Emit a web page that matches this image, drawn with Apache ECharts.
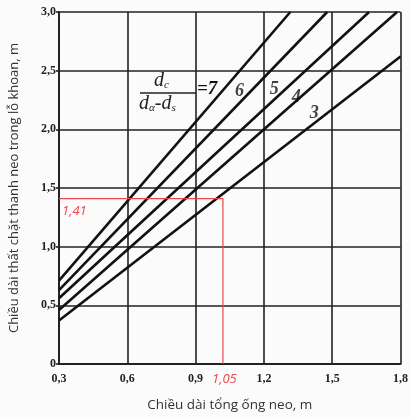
<!DOCTYPE html>
<html><head><meta charset="utf-8">
<script src="https://cdn.jsdelivr.net/npm/echarts@6/dist/echarts.min.js"></script>
<style>html,body{margin:0;padding:0;background:#fbfbfb}#c{width:411px;height:417px}</style>
</head><body><div id="c"></div>
<script>
// Data
const xTicks = [0.3, 0.6, 0.9, 1.2, 1.5, 1.8];
const yTicks = [0, 0.5, 1.0, 1.5, 2.0, 2.5, 3.0];
const ratioNames = ['7', '6', '5', '4', '3'];
const line7 = [[0.3, 0.71], [1.316, 3.0]];
const line6 = [[0.3, 0.63], [1.478, 3.0]];
const line5 = [[0.3, 0.56], [1.662, 3.0]];
const line4 = [[0.3, 0.46], [1.785, 3.0]];
const line3 = [[0.3, 0.37], [1.8, 2.62]];
const exampleX = 1.02;      // drawn position of the worked example
const exampleY = 1.41;
const exampleXLabel = '1,05';
const exampleYLabel = '1,41';
const curveLabels = [[1.093, 2.32, '6'], [1.246, 2.34, '5'], [1.342, 2.27, '4'], [1.421, 2.14, '3']];

const fmt = v => (Math.round(v * 10) / 10 === 0 ? '0' : v.toFixed(1).replace('.', ','));
const chart = echarts.init(document.getElementById('c'));
const lines = [line7, line6, line5, line4, line3];
const serif = 'Liberation Serif';
const series = lines.map((d, i) => ({
  name: ratioNames[i], type: 'line', data: d, symbol: 'none', clip: true,
  lineStyle: { color: '#111', width: 2.6 }, silent: true
}));
series.push({
  type: 'line', data: [[0.3, exampleY], [exampleX, exampleY], [exampleX, 0]],
  symbol: 'none', lineStyle: { color: '#e8474c', width: 1.2 }, silent: true, z: 3
});
series.push({
  type: 'scatter', symbolSize: 0, silent: true,
  data: curveLabels.map(c => ({ value: [c[0], c[1]], name: c[2] })),
  label: { show: true, formatter: p => p.name, position: 'inside',
    fontFamily: serif, fontStyle: 'italic', fontWeight: 'bold', fontSize: 18, color: '#111' }
});
chart.setOption({
  backgroundColor: '#fbfbfb',
  animation: false,
  grid: { left: 59, right: 10, top: 12, bottom: 51 },
  xAxis: {
    type: 'value', min: 0.3, max: 1.8, interval: 0.3,
    name: 'Chiều dài tổng ống neo, m', nameLocation: 'middle', nameGap: 34,
    nameTextStyle: { fontFamily: 'Open Sans', fontSize: 13.5, color: '#333' },
    axisLine: { show: true, lineStyle: { color: '#222', width: 2 } },
    axisTick: { show: false },
    axisLabel: { formatter: fmt, margin: 9, fontFamily: serif, fontWeight: 'bold', fontSize: 12, color: '#222' },
    splitLine: { show: true, lineStyle: { color: '#222', width: 1.6 } }
  },
  yAxis: {
    type: 'value', min: 0, max: 3, interval: 0.5,
    name: 'Chiều dài thất chặt thanh neo trong lỗ khoan, m', nameLocation: 'middle', nameGap: 38,
    nameTextStyle: { fontFamily: 'Open Sans', fontSize: 13, color: '#333' },
    axisLine: { show: true, lineStyle: { color: '#222', width: 2 } },
    axisTick: { show: true, length: 3, lineStyle: { color: '#222', width: 1.6 } },
    axisLabel: { formatter: fmt, margin: 3, fontFamily: serif, fontWeight: 'bold', fontSize: 12, color: '#222' },
    splitLine: { show: true, lineStyle: { color: '#222', width: 1.6 } }
  },
  graphic: [
    { type: 'text', x: 154, y: 71, z: 51, style: { rich: { a: { fontFamily: serif, fontStyle: 'italic', fontSize: 20, fill: '#222' }, b: { fontFamily: serif, fontStyle: 'italic', fontSize: 11, fill: '#222', padding: [8, 0, 0, 0] } }, text: '{a|d}{b|c}' } },
    { type: 'line', shape: { x1: 140, y1: 93, x2: 196, y2: 93 }, style: { stroke: '#222', lineWidth: 1.3 }, z: 51 },
    { type: 'text', x: 139, y: 94, z: 51, style: { rich: { a: { fontFamily: serif, fontStyle: 'italic', fontSize: 20, fill: '#222' }, b: { fontFamily: serif, fontStyle: 'italic', fontSize: 11, fill: '#222', padding: [8, 0, 0, 0] } }, text: '{a|d}{b|α}{a|-d}{b|s}' } },
    { type: 'text', x: 197, y: 80, z: 51, style: { text: '=7', fontFamily: serif, fontStyle: 'italic', fontWeight: 'bold', fontSize: 19, fill: '#111' } },
    { type: 'text', x: 62, y: 205, style: { text: exampleYLabel, fontFamily: 'Open Sans', fontStyle: 'italic', fontSize: 13, fill: '#e8474c' } },
    { type: 'text', x: 212, y: 373, style: { text: exampleXLabel, fontFamily: 'Open Sans', fontStyle: 'italic', fontSize: 13, fill: '#e8474c', backgroundColor: '#fbfbfb' } }
  ],
  series: series
});
</script></body></html>
